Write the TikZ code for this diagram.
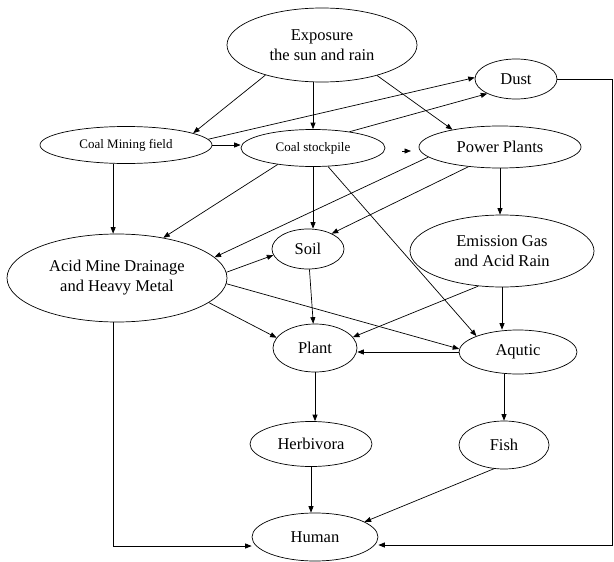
\documentclass[tikz,border=0pt]{standalone}
\usepackage{fontspec}
\setmainfont{Liberation Serif}
\usetikzlibrary{arrows.meta,shapes.geometric}
\begin{document}
\begin{tikzpicture}[x=1pt,y=-1pt,
  ell/.style={draw, ellipse, inner sep=0pt, line width=0.7pt, align=center, font=\fontsize{16.5}{20}\selectfont},
  sm/.style={font=\fontsize{13}{15}\selectfont},
  arr/.style={line width=0.7pt, -{Triangle[length=6.5pt,width=5pt]}}]
\useasboundingbox (0,0) rectangle (614,562);

\node[ell, minimum width=190pt, minimum height=74pt] (exp) at (322,45) {Exposure\\the sun and rain};
\node[ell, minimum width=82pt, minimum height=40pt] (dust) at (516,79) {Dust};
\node[ell, sm, minimum width=172pt, minimum height=37pt] (cmf) at (126,145) {Coal Mining field};
\node[ell, sm, minimum width=144pt, minimum height=37pt] (csp) at (313,148) {Coal stockpile};
\node[ell, minimum width=162pt, minimum height=42pt] (pp) at (500,147) {Power Plants};
\node[ell, minimum width=220pt, minimum height=88pt] (amd) at (117,278) {Acid Mine Drainage\\and Heavy Metal};
\node[ell, minimum width=72pt, minimum height=40pt] (soil) at (308,249) {Soil};
\node[ell, minimum width=184pt, minimum height=72pt] (emis) at (502,251) {Emission Gas\\and Acid Rain};
\node[ell, minimum width=84pt, minimum height=48pt] (plant) at (315,348) {Plant};
\node[ell, minimum width=118pt, minimum height=44pt] (aq) at (518,352) {Aqutic};
\node[ell, minimum width=122pt, minimum height=45pt] (herb) at (311,444) {Herbivora};
\node[ell, minimum width=90pt, minimum height=48pt] (fish) at (504,445) {Fish};
\node[ell, minimum width=126pt, minimum height=48pt] (human) at (315,537) {Human};

\draw[arr] (exp.208) -- (cmf.10);
\draw[arr] (exp.south -| csp) -- (csp);
\draw[arr] (exp.331) -- (pp.160);
\draw[arr] (cmf.east) -- (cmf.east -| csp.west);
\draw[arr] (cmf.4) -- (dust.178);
\draw[arr] (csp.24) -- (dust.207);
\coordinate (ha) at (402,151);
\coordinate (hb) at (411,151);
\draw[arr] (ha) -- (hb);
\draw[arr] (cmf.south -| amd.95) -- (amd.95);
\draw[arr] (csp.205) -- (amd.41);
\draw[arr] (csp) -- (csp |- soil.north);
\draw[arr] (csp.309) -- (aq.159);
\draw[arr] (pp.188) -- (amd.12);
\draw[arr] (pp.212) -- (soil.33);
\draw[arr] (pp.south) -- (pp.south |- emis.north);
\draw[arr] (amd.3) -- (soil.190);
\draw[arr] (amd.345) -- (plant.165);
\draw[arr] (amd.357) -- (aq.177);
\draw[arr] (soil) -- (plant);
\draw[arr] (emis.236) -- (plant.16);
\draw[arr] (emis.south) -- (emis.south |- aq.north);
\draw[arr] (aq.west) -- (aq.west -| plant.east);
\draw[arr] (aq.south -| fish.north) -- (fish.north);
\draw[arr] (plant.south) -- (plant.south |- herb.north);
\draw[arr] (herb.south) -- (herb.south |- human.north);
\draw[arr] (fish.247) -- (human.17);
\draw[arr] (amd.265) |- ([yshift=-9pt]human.west);
\coordinate (rc) at (612,79);
\draw[arr] (dust) -- (rc) |- ([yshift=-8pt]human.east);
\end{tikzpicture}
\end{document}
